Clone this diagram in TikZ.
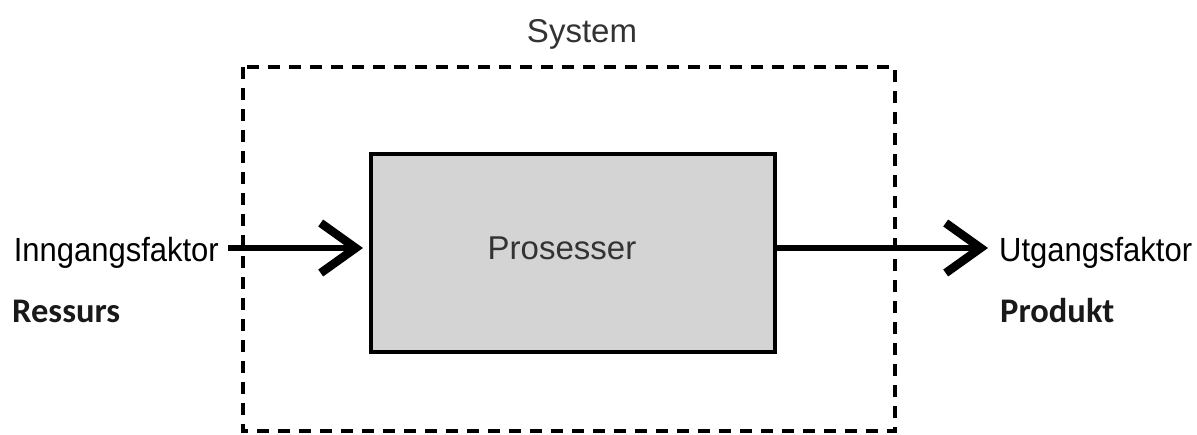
\documentclass[tikz,border=0pt]{standalone}
\usepackage{fontspec}
\setmainfont{Liberation Sans}
\newfontfamily\labelfont[FakeStretch=0.925]{Liberation Sans}
\newfontfamily\boldlabel{Carlito}
\usetikzlibrary{arrows.meta}
\definecolor{boxgray}{HTML}{D4D4D4}
\definecolor{textgray}{HTML}{333333}
\tikzset{
  sysframe/.style={draw=black, line width=3.3pt, dash pattern=on 12pt off 9pt},
  procbox/.style={draw=black, fill=boxgray, line width=3.5pt},
  flow/.style={line width=6pt, -{Straight Barb[length=35pt, width=50pt, line width=8.5pt]}},
  sidelabel/.style={inner sep=0pt, font=\labelfont\fontsize{33.5}{36}\selectfont, text=black},
  kindlabel/.style={inner sep=0pt, font=\boldlabel\bfseries\fontsize{34.5}{38}\selectfont, text=black!90},
  titlelabel/.style={inner sep=0pt, font=\fontsize{33}{36}\selectfont, text=textgray},
}
\begin{document}
\begin{tikzpicture}[x=1pt, y=-1pt]
  \useasboundingbox[fill=white] (0,0) rectangle (1197,434);

  % system boundary
  \draw[sysframe] (243,67) rectangle (895,431);
  \node[titlelabel, anchor=base] (system) at (582,42) {System};

  % process block
  \node[procbox, minimum width=404pt, minimum height=198pt, inner sep=0pt,
        anchor=north west] (proc) at (369,152) {};
  \node[titlelabel, anchor=base] (proctext) at (562,259) {Prosesser};

  % input and output flows
  \coordinate (inL) at (228,248);
  \coordinate (outR) at (988,248);
  \draw[flow, shorten >=6pt] (inL) -- (inL -| proc.west);
  \draw[flow] (outR -| proc.east) -- (outR);

  % flow labels
  \node[sidelabel, anchor=base east] (inlabel) at (219,261) {Inngangsfaktor};
  \node[sidelabel, anchor=base west] (outlabel) at (999,261) {Utgangsfaktor};
  \node[kindlabel, anchor=base west] (ressurs) at (12,322) {Ressurs};
  \node[kindlabel, anchor=base west] (produkt) at (1000,322) {Produkt};
\end{tikzpicture}
\end{document}
